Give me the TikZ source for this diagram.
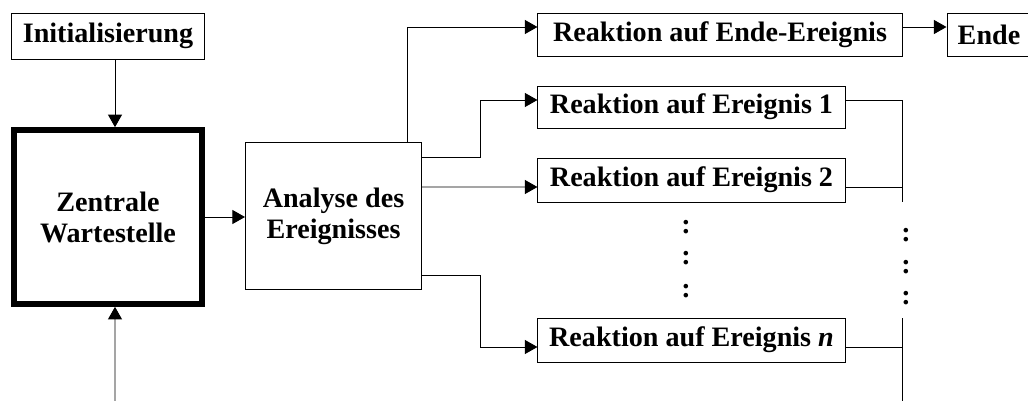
\documentclass[tikz,border=0pt]{standalone}
\usepackage{fontspec}
\setmainfont{Liberation Serif}
\usetikzlibrary{positioning,calc,arrows.meta}

\begin{document}
\begin{tikzpicture}[x=0.025cm,y=-0.025cm,
    box/.style={draw,line width=0.7pt,inner sep=0pt,align=center,font=\bfseries\fontsize{20}{22}\selectfont},
    conn/.style={line width=0.7pt,-{Triangle[length=9pt,width=10pt]}},
    wire/.style={line width=0.7pt},
    dotsym/.style={inner sep=0pt,font=\bfseries\fontsize{20}{22}\selectfont}]
    \useasboundingbox (0,0) rectangle (1028,401);

    % linke Seite
    \node[box,minimum width=4.8cm,minimum height=1.15cm] (init) at (108,36) {Initialisierung};
    \node[box,line width=4.25pt,minimum width=4.7cm,minimum height=4.34cm] (zentrale) at (108,217) {Zentrale\\Wartestelle};
    \node[box,minimum width=4.4cm,minimum height=3.65cm] (analyse) at (333.5,216) {Analyse des\\Ereignisses};

    % Reaktionen
    \node[box,minimum width=9.1cm,minimum height=1.075cm] (r0) at (720,34.5) {Reaktion auf Ende-Ereignis};
    \node[box,minimum width=2.1cm,minimum height=1.075cm] (ende) at (989,34.5) {Ende};
    \node[box,minimum width=7.675cm,minimum height=1.05cm] (r1) at (691.5,107) {Reaktion auf Ereignis 1};
    \node[box,minimum width=7.675cm,minimum height=1.1cm] (r2) at (691.5,180) {Reaktion auf Ereignis 2};
    \node[box,minimum width=7.675cm,minimum height=1.1cm] (rn) at (691.5,340) {Reaktion auf Ereignis \textit{n}};

    % Punkte
    \node[dotsym] (p1) at (686,227.5) {:};
    \node[dotsym] (p2) at (686,258.5) {:};
    \node[dotsym] (p3) at (686,291.5) {:};
    \node[dotsym] (q1) at (906,235) {:};
    \node[dotsym] (q2) at (906,267) {:};
    \node[dotsym] (q3) at (906,298.5) {:};

    \coordinate (rueck) at (115,401);   % Ruecksprung unten
    \coordinate (bus1) at (902,202);
    \coordinate (bus2) at (902,318);
    \coordinate (bus3) at (902,401);

    \draw[conn] ([xshift=0.175cm]init.south) -- ([xshift=0.175cm]zentrale.north);
    \draw[conn] (rueck) -- ([xshift=0.175cm]zentrale.south);
    \draw[conn] (zentrale.east) -- (zentrale.east -| analyse.west);

    \draw[conn] ([xshift=1.8375cm]analyse.north) |- ([yshift=0.1875cm]r0.west);
    \draw[conn] ([yshift=1.45cm]analyse.east) -- ++(58,0) |- ([yshift=0.175cm]r1.west);
    \draw[conn] ([yshift=0.725cm]analyse.east) -- ([yshift=-0.175cm]r2.west);
    \draw[conn] ([yshift=-1.475cm]analyse.east) -- ++(58,0) |- ([yshift=-0.175cm]rn.west);
    \draw[conn] ([yshift=0.1875cm]r0.east) -- ([yshift=0.1875cm]ende.west);

    \draw[wire] ([yshift=0.175cm]r1.east) -| (bus1);
    \draw[wire] ([yshift=-0.175cm]r2.east) -- ++(57,0);
    \draw[wire] ([yshift=-0.175cm]rn.east) -- ++(57,0);
    \draw[wire] (bus2) -- (bus3);
\end{tikzpicture}
\end{document}
